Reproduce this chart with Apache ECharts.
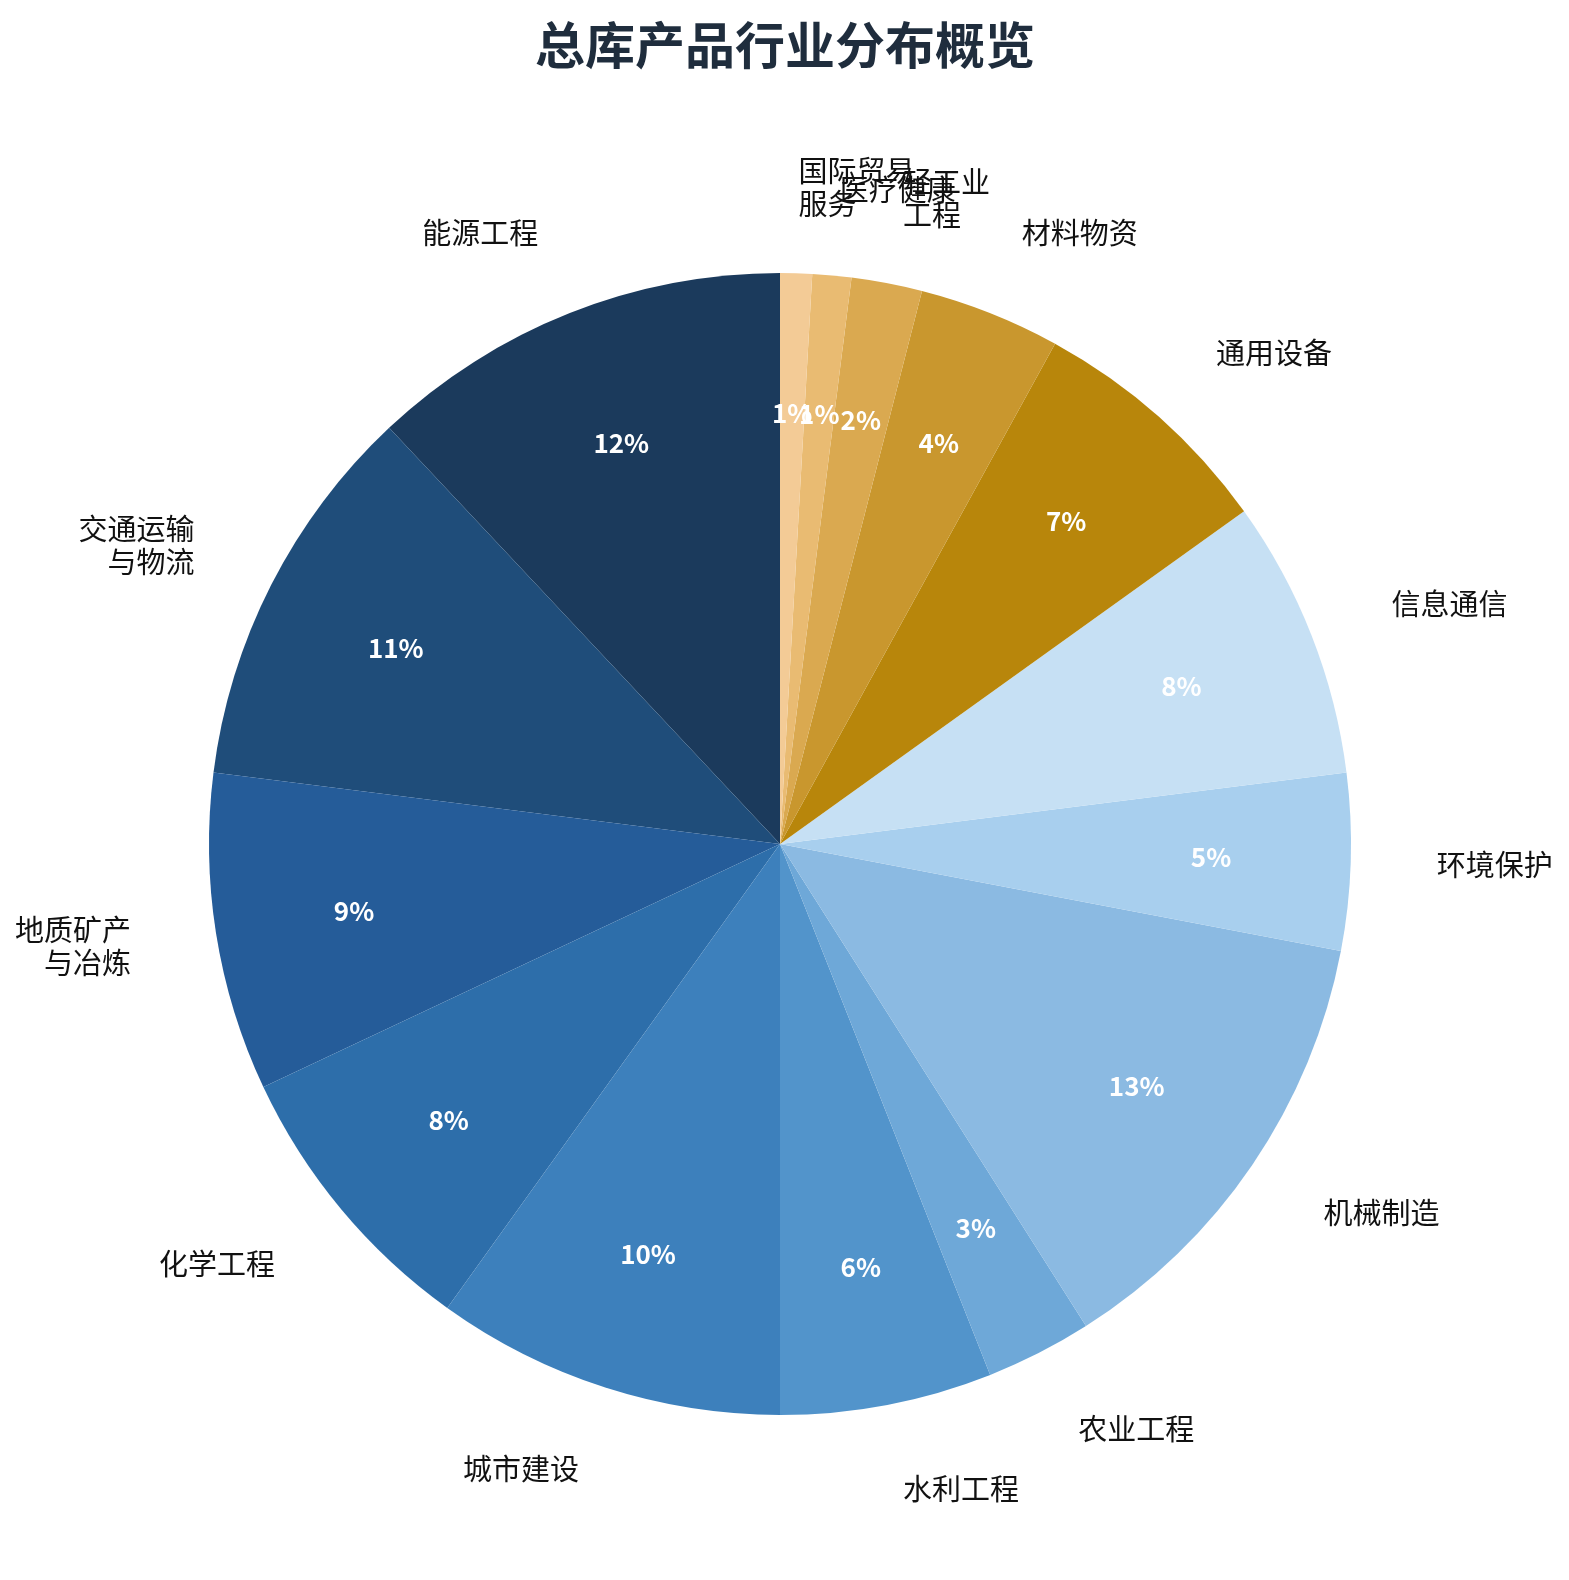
<!DOCTYPE html>
<html>
<head>
<meta charset="utf-8">
<script src="https://cdn.jsdelivr.net/npm/echarts@6/dist/echarts.min.js"></script>
<style>
html,body{margin:0;padding:0;background:#fff;}
#chart{width:1569px;height:1580px;}
</style>
</head>
<body>
<div id="chart"></div>
<script>
const titleText = '总库产品行业分布概览';
const categories = ['能源工程','交通运输\n与物流','地质矿产\n与冶炼','化学工程','城市建设','水利工程','农业工程','机械制造','环境保护','信息通信','通用设备','材料物资','轻工业\n工程','医疗健康','国际贸易\n服务'];
const values = [12.0, 11.0, 9.0, 8.1, 9.9, 6.0, 3.0, 13.0, 5.0, 7.9, 7.1, 4.0, 2.0, 1.1, 0.9];
const colors = ['#1b3a5c','#1f4d7a','#255c99','#2d6eaa','#3d80bc','#5294cb','#6ea8d8','#8bbae2','#a8cfee','#c6e0f4','#b8860b','#c9972e','#daa950','#e9bb72','#f3cb96'];

const R = 571;
const CX = 780, CY = 844;

const data = categories.map((c, i) => ({ name: c, value: values[i], itemStyle: { color: colors[i] } }));
const chart = echarts.init(document.getElementById('chart'));
chart.setOption({
  animation: false,
  backgroundColor: '#ffffff',
  title: {
    text: titleText,
    left: CX,
    textAlign: 'center',
    top: 15,
    textStyle: { fontSize: 50, fontWeight: 'bold', color: '#1f2d3d', fontFamily: 'Noto Sans CJK SC' }
  },
  series: [
    {
      type: 'pie',
      center: [CX, CY],
      radius: [0, R],
      startAngle: 90,
      clockwise: false,
      avoidLabelOverlap: false,
      minShowLabelAngle: 0,
      silent: true,
      data: data,
      itemStyle: { borderWidth: 0 },
      labelLayout: { hideOverlap: false },
      label: {
        show: true,
        position: 'outside',
        distanceToLabelLine: 0,
        fontSize: 29,
        lineHeight: 33,
        color: '#111111',
        fontFamily: 'Noto Sans CJK SC',
        formatter: p => p.name
      },
      labelLine: { show: false, length: Math.round(R * 0.15), length2: 0 }
    },
    {
      type: 'pie',
      center: [CX, CY],
      radius: [R * 0.5, R],
      startAngle: 90,
      clockwise: false,
      avoidLabelOverlap: false,
      minShowLabelAngle: 0,
      silent: true,
      data: categories.map((c, i) => ({ name: c, value: values[i] })),
      itemStyle: { color: 'rgba(0,0,0,0)', borderWidth: 0 },
      labelLayout: { hideOverlap: false },
      label: {
        show: true,
        position: 'inside',
        fontSize: 26,
        fontWeight: 'bold',
        color: '#ffffff',
        fontFamily: 'Noto Sans CJK SC',
        formatter: p => Math.round(p.percent) + '%'
      },
      labelLine: { show: false }
    }
  ]
});
</script>
</body>
</html>
